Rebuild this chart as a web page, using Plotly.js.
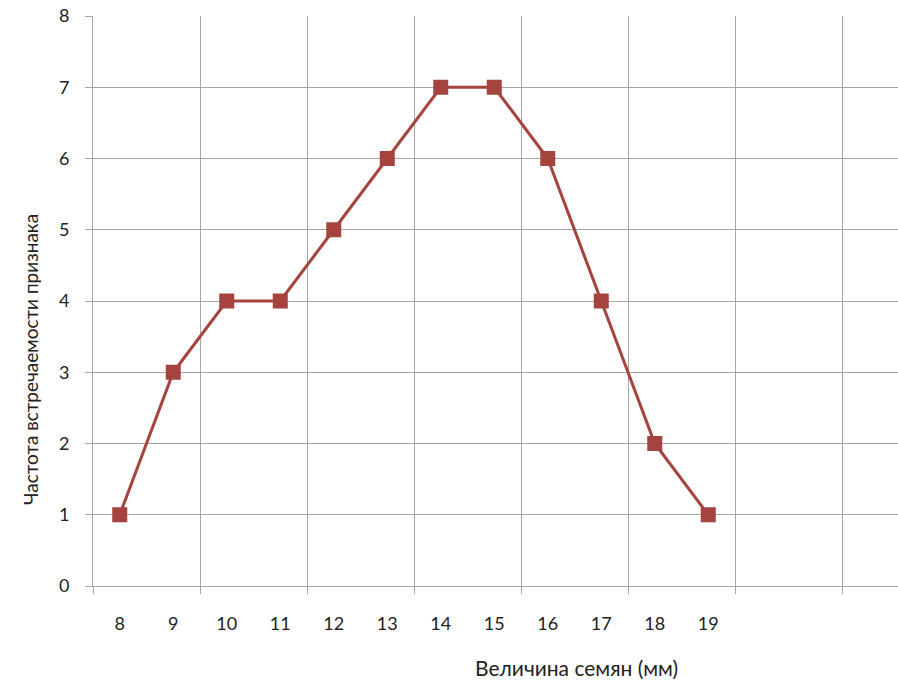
<!DOCTYPE html>
<html><head><meta charset="utf-8">
<script src="https://cdn.plot.ly/plotly-3.0.1.min.js"></script>
<style>html,body{margin:0;padding:0;background:#fff}#c{width:898px;height:695px}</style>
</head><body><div id="c"></div>
<script>
const seedSize = [8, 9, 10, 11, 12, 13, 14, 15, 16, 17, 18, 19];
const frequency = [1, 3, 4, 4, 5, 6, 7, 7, 6, 4, 2, 1];
const xTitle = "Величина семян (мм)";
const yTitle = "Частота встречаемости признака";
const font = "Lato, 'Open Sans', sans-serif";
const gridC = "#a6a6a6";

const trace = {
  x: seedSize, y: frequency, type: "scatter", mode: "lines+markers",
  line: {color: "#A5433F", width: 3},
  marker: {symbol: "square", size: 15, color: "#A5433F"},
  cliponaxis: false, hoverinfo: "skip"
};
const layout = {
  width: 898, height: 695,
  margin: {l: 93, r: 0, t: 16, b: 109},
  paper_bgcolor: "#fff", plot_bgcolor: "#fff",
  showlegend: false,
  font: {family: font, size: 18, color: "#222"},
  xaxis: {
    range: [7.5, 7.5 + 805/53.5], tickmode: "array", tickvals: seedSize,
    ticktext: seedSize.map(String), ticks: "", showgrid: false, zeroline: false,
    showline: true, linecolor: gridC, linewidth: 1,
    ticklabelstandoff: 21, fixedrange: true,
    minor: {tick0: 7.5, dtick: 2, showgrid: true, gridcolor: gridC, gridwidth: 1,
            ticks: "outside", ticklen: 7, tickcolor: gridC}
  },
  yaxis: {
    range: [0, 8], dtick: 1, tick0: 0, showgrid: true, gridcolor: gridC, gridwidth: 1,
    zeroline: false, showline: true, linecolor: gridC, ticks: "outside", ticklen: 7,
    tickcolor: gridC, ticklabelstandoff: 12, fixedrange: true
  },
  annotations: [
    {text: xTitle, xref: "paper", yref: "paper", x: (576-93)/805, y: -(667-586)/570,
     xanchor: "center", yanchor: "middle", showarrow: false, font: {family: font, size: 21, color: "#222"}},
    {text: yTitle, xref: "paper", yref: "paper", x: -(93-30)/805, y: (586-360)/570,
     xanchor: "center", yanchor: "middle", textangle: -90, showarrow: false, font: {family: font, size: 19, color: "#222"}}
  ]
};
Plotly.newPlot("c", [trace], layout, {displayModeBar: false, staticPlot: true});
</script></body></html>
